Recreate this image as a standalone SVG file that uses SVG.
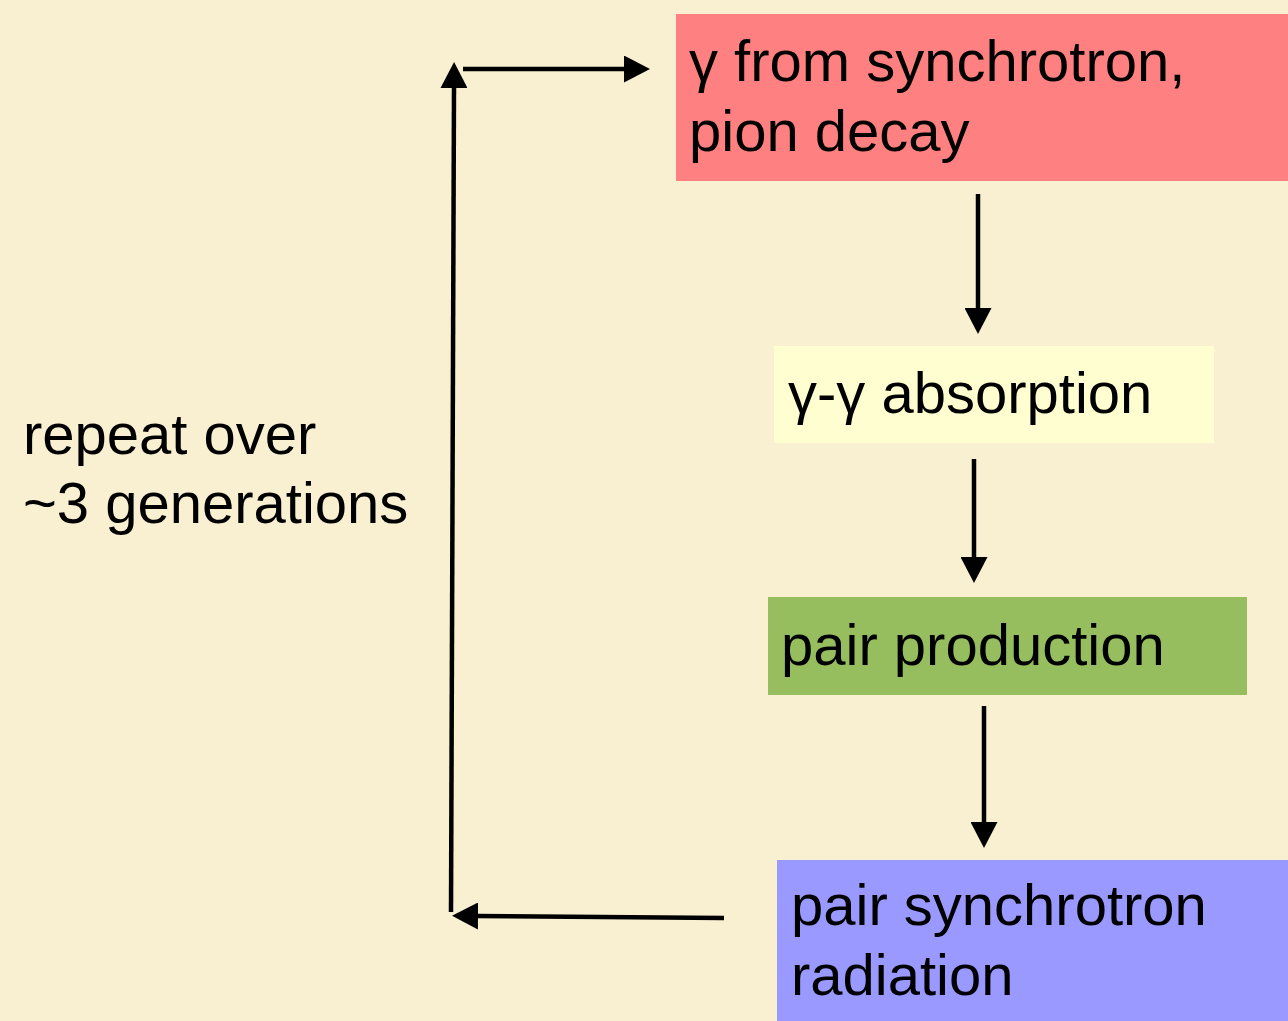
<svg xmlns="http://www.w3.org/2000/svg" width="1288" height="1021" viewBox="0 0 1288 1021">
<style>
text{font-family:"Liberation Sans",Arial,sans-serif;font-size:58px;fill:#000}
.c{stroke:#000;stroke-width:4.5;fill:none}
</style>
<defs>
<marker id="ah" viewBox="0 0 26 27" refX="2" refY="13.5" markerWidth="26" markerHeight="27" markerUnits="userSpaceOnUse" orient="auto">
<path d="M0,0 L26,13.5 L0,27 Z" fill="#000"/>
</marker>
</defs>
<rect width="1288" height="1021" fill="#F9F0D2"/>
<g id="n1"><rect x="676" y="14" width="612" height="167" fill="#FF8080"/><text x="689" y="81">γ from synchrotron,</text><text x="689" y="151">pion decay</text></g>
<g id="n2"><rect x="774" y="346" width="440" height="97" fill="#FEFED0"/><text x="788" y="413">γ-γ absorption</text></g>
<g id="n3"><rect x="768" y="597" width="479" height="98" fill="#96BE5E"/><text x="781" y="665">pair production</text></g>
<g id="n4"><rect x="777" y="860" width="511" height="161" fill="#9999FF"/><text x="791" y="925">pair synchrotron</text><text x="791" y="995">radiation</text></g>
<g id="label"><text x="23" y="454">repeat over</text><text x="23" y="523">~3 generations</text></g>
<g id="connectors">
<line class="c" x1="451" y1="912" x2="454" y2="86" marker-end="url(#ah)"/>
<line class="c" x1="463" y1="69" x2="626" y2="69" marker-end="url(#ah)"/>
<line class="c" x1="724" y1="918" x2="476" y2="916" marker-end="url(#ah)"/>
<line class="c" x1="978" y1="194" x2="978" y2="310" marker-end="url(#ah)"/>
<line class="c" x1="974" y1="459" x2="974" y2="559" marker-end="url(#ah)"/>
<line class="c" x1="984" y1="706" x2="984" y2="824" marker-end="url(#ah)"/>
</g>
</svg>
